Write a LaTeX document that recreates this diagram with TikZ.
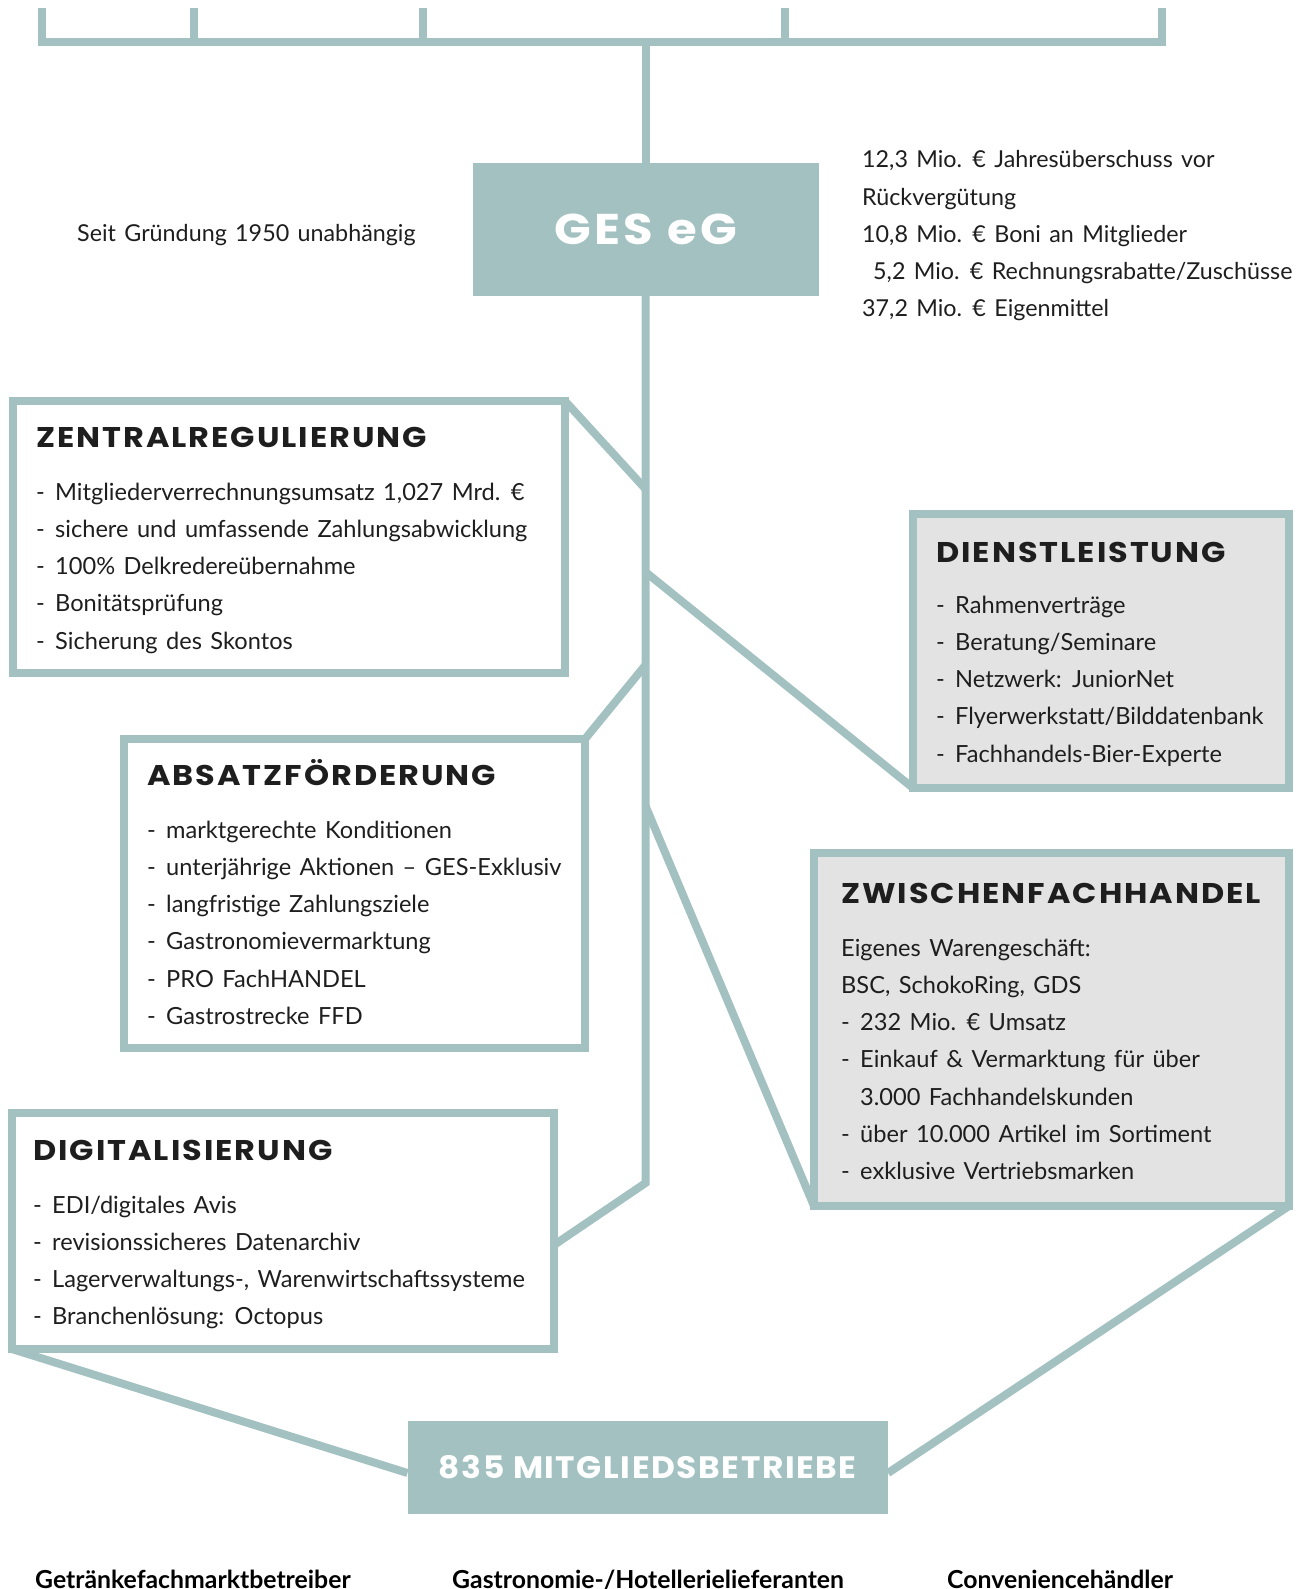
\documentclass[tikz,border=0pt]{standalone}
\usepackage{fontspec}
\setmainfont{Lato}[WordSpace=1.4]
\newfontfamily\headfont{Poppins}[LetterSpace=7,FakeStretch=1.12]
\newfontfamily\gesfont{Poppins}[LetterSpace=8,FakeStretch=1.12]
\newfontfamily\mbfont{Poppins}[LetterSpace=5,FakeStretch=1.06]
\definecolor{gesteal}{HTML}{A3C1C1}
\definecolor{boxgray}{HTML}{E3E3E3}
\definecolor{ink}{HTML}{1E1E1E}
\newcommand{\dsh}{\makebox[19pt][l]{-}}
\tikzset{
  conn/.style={draw=gesteal, line width=8pt},
  box/.style={draw=gesteal, line width=8pt, rectangle, inner sep=0pt, outer sep=0pt},
  graybox/.style={box, fill=boxgray},
  tealbox/.style={fill=gesteal, rectangle, inner sep=0pt, outer sep=0pt, text=white},
  head/.style={anchor=base west, inner sep=0pt, text=ink, font=\headfont\bfseries\fontsize{28.5}{30}\selectfont},
  body/.style={anchor=base west, inner sep=0pt, text=ink, font=\fontsize{23.6}{37.3}\selectfont},
  info/.style={anchor=base west, inner sep=0pt, text=ink, font=\fontsize{23.3}{37.2}\selectfont},
  foot/.style={anchor=base west, inner sep=0pt, text=black, font=\bfseries\fontsize{24.8}{26}\selectfont}
}
\begin{document}
\begin{tikzpicture}[x=1pt,y=-1pt]
\useasboundingbox (0,0) rectangle (1306,1589);
\clip (0,0) rectangle (1306,1589);

% top bracket
\coordinate (bl) at (42,8);
\coordinate (br) at (1162,8);
\coordinate (t1) at (193.5,8);
\coordinate (t2) at (422.5,8);
\coordinate (t3) at (785,8);
\coordinate (barmid) at (645.5,42);
\draw[conn] (bl) -- (42,42) -- (1162,42) -- (br);
\foreach \c in {t1,t2,t3} \draw[conn] (\c) -- (\c |- barmid);

% nodes
\node[tealbox, minimum width=346pt, minimum height=133pt,
      font=\gesfont\bfseries\fontsize{43}{43}\selectfont] (ges) at (645.5,229.5) {GES eG};
\node[tealbox, minimum width=480.5pt, minimum height=93pt,
      font=\mbfont\bfseries\fontsize{31}{31}\selectfont] (mb) at (647.75,1467.5) {835 MITGLIEDSBETRIEBE};

\node[box, minimum width=552.5pt, minimum height=272pt] (zr) at (288.75,537) {};
\node[graybox, minimum width=376pt, minimum height=274pt] (dl) at (1101,651) {};
\node[box, minimum width=461pt, minimum height=308.5pt] (af) at (354.5,893.25) {};
\node[graybox, minimum width=475pt, minimum height=353pt] (zf) at (1051.5,1029.5) {};
\node[box, minimum width=542pt, minimum height=236pt] (dg) at (283,1231) {};

% trunk
\coordinate (jzr) at (645.5,489);
\coordinate (jdl) at (645.5,572);
\coordinate (jaf) at (645.5,665);
\coordinate (jzf) at (645.5,806);
\coordinate (jend) at (645.5,1183);
\coordinate (jdg) at (554,1245);
\coordinate (mbl) at (407.5,1473);
\coordinate (mbr) at (888,1473);
\draw[conn] (barmid) -- (ges.north);
\draw[conn] (ges.south) -- (jend) -- (jdg);
\draw[conn] (zr.north east) -- (jzr);
\draw[conn] (jdl) -- (dl.south west);
\draw[conn] (jaf) -- (af.north east);
\draw[conn] (jzf) -- (zf.south west);
\draw[conn] (dg.south west) -- (mbl);
\draw[conn] (zf.south east) -- (mbr);

% texts top
\node[info] (seit) at (77,242) {Seit Gründung 1950 unabhängig};
\node[info] (fin) at (862,168) {\begin{tabular}[t]{@{}l@{}}
12,3 Mio. € Jahresüberschuss vor\\
Rückvergütung\\
10,8 Mio. € Boni an Mitglieder\\
\hspace{11pt}5,2 Mio. € Rechnungsrabatte/Zuschüsse\\
37,2 Mio. € Eigenmittel
\end{tabular}};

% ZENTRALREGULIERUNG
\node[head] (zrh) at (36,447) {ZENTRALREGULIERUNG};
\node[body] (zrt) at (36,500) {\begin{tabular}[t]{@{}l@{}}
\dsh Mitgliederverrechnungsumsatz 1,027 Mrd. €\\
\dsh sichere und umfassende Zahlungsabwicklung\\
\dsh 100\% Delkredereübernahme\\
\dsh Bonitätsprüfung\\
\dsh Sicherung des Skontos
\end{tabular}};

% DIENSTLEISTUNG
\node[head] (dlh) at (936,562) {DIENSTLEISTUNG};
\node[body] (dlt) at (936,613) {\begin{tabular}[t]{@{}l@{}}
\dsh Rahmenverträge\\
\dsh Beratung/Seminare\\
\dsh Netzwerk: JuniorNet\\
\dsh Flyerwerkstatt/Bilddatenbank\\
\dsh Fachhandels-Bier-Experte
\end{tabular}};

% ABSATZFOERDERUNG
\node[head] (afh) at (147,785) {ABSATZFÖRDERUNG};
\node[body] (aft) at (147,838) {\begin{tabular}[t]{@{}l@{}}
\dsh marktgerechte Konditionen\\
\dsh unterjährige Aktionen – GES-Exklusiv\\
\dsh langfristige Zahlungsziele\\
\dsh Gastronomievermarktung\\
\dsh PRO FachHANDEL\\
\dsh Gastrostrecke FFD
\end{tabular}};

% ZWISCHENFACHHANDEL
\node[head] (zfh) at (841,903) {ZWISCHENFACHHANDEL};
\node[body] (zft) at (841,956) {\begin{tabular}[t]{@{}l@{}}
Eigenes Warengeschäft:\\
BSC, SchokoRing, GDS\\
\dsh 232 Mio. € Umsatz\\
\dsh Einkauf \& Vermarktung für über\\
\hspace{19pt}3.000 Fachhandelskunden\\
\dsh über 10.000 Artikel im Sortiment\\
\dsh exklusive Vertriebsmarken
\end{tabular}};

% DIGITALISIERUNG
\node[head] (dgh) at (33,1160) {DIGITALISIERUNG};
\node[body] (dgt) at (33,1213) {\begin{tabular}[t]{@{}l@{}}
\dsh EDI/digitales Avis\\
\dsh revisionssicheres Datenarchiv\\
\dsh Lagerverwaltungs-, Warenwirtschaftssysteme\\
\dsh Branchenlösung: Octopus
\end{tabular}};

% bottom labels
\node[foot] (f1) at (35,1588) {Getränkefachmarktbetreiber};
\node[foot] (f2) at (452,1588) {Gastronomie-/Hotellerielieferanten};
\node[foot] (f3) at (947,1588) {Conveniencehändler};
\end{tikzpicture}
\end{document}
